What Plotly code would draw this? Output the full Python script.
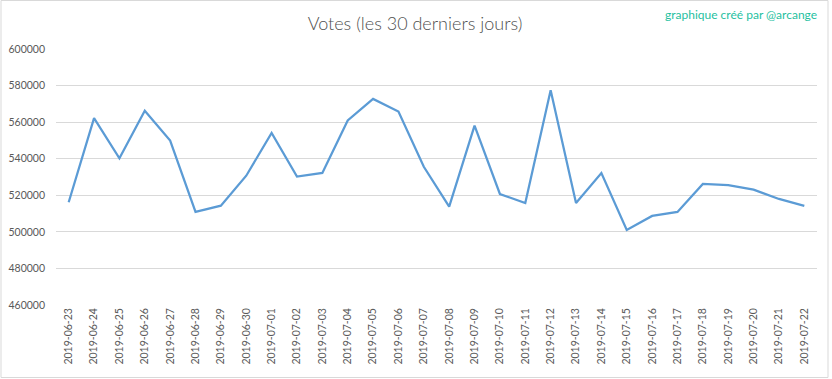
import plotly.graph_objects as go

dates = ["2019-06-23", "2019-06-24", "2019-06-25", "2019-06-26", "2019-06-27",
         "2019-06-28", "2019-06-29", "2019-06-30", "2019-07-01", "2019-07-02",
         "2019-07-03", "2019-07-04", "2019-07-05", "2019-07-06", "2019-07-07",
         "2019-07-08", "2019-07-09", "2019-07-10", "2019-07-11", "2019-07-12",
         "2019-07-13", "2019-07-14", "2019-07-15", "2019-07-16", "2019-07-17",
         "2019-07-18", "2019-07-19", "2019-07-20", "2019-07-21", "2019-07-22"]
votes = [516200, 562200, 540200, 566200, 549900,
         510900, 514300, 530700, 554100, 530200,
         532200, 560900, 572700, 565800, 535600,
         513800, 558100, 520700, 515800, 577400,
         515800, 532200, 501000, 508700, 510900,
         526200, 525600, 523100, 518000, 514200]
y_ticks = [460000, 480000, 500000, 520000, 540000, 560000, 580000, 600000]

W, H = 832, 379
L, R, T, B = 56, 15, 49, 74
pw, ph = W - L - R, H - T - B

def px(x):
    return (x - L) / pw

def py(y):
    return (H - B - y) / ph

FONT = "Lato, 'Open Sans', sans-serif"

fig = go.Figure()
fig.add_trace(go.Scatter(
    x=dates, y=votes, mode="lines",
    line=dict(color="#5b9bd5", width=2.25),
    hoverinfo="x+y",
))

fig.update_layout(
    width=W, height=H,
    margin=dict(l=L, r=R, t=T, b=B),
    paper_bgcolor="white", plot_bgcolor="white",
    showlegend=False,
    font=dict(family=FONT, color="#595959", size=11),
    title=dict(text="Votes (les 30 derniers jours)", xref="container", x=415 / W,
               xanchor="center", yref="container", y=1 - 24 / H, yanchor="middle",
               font=dict(family=FONT, size=18, color="#505050", weight=300)),
    xaxis=dict(type="category", tickangle=-90, showgrid=False, automargin=False,
               showline=False, ticks="", tickfont=dict(size=10.5, color="#595959"),
               range=[-0.5, len(dates) - 0.5]),
    yaxis=dict(range=[460000, 600000], tickvals=y_ticks, ticktext=[str(v) for v in y_ticks],
               showgrid=True, gridcolor="#d9d9d9", gridwidth=1, zeroline=False,
               showline=False, ticks="", ticklabelstandoff=10, automargin=False,
               tickfont=dict(size=10.5, color="#595959")),
    annotations=[dict(text="graphique créé par @arcange", xref="paper", yref="paper",
                      x=px(819), y=py(14), xanchor="right", yanchor="middle",
                      showarrow=False,
                      font=dict(family=FONT, size=12, color="#1fbf9f"))],
    shapes=[dict(type="rect", xref="paper", yref="paper",
                 x0=px(1), x1=px(828), y0=py(377.5), y1=py(0.5),
                 line=dict(color="#d9d9d9", width=1), layer="below")],
)

fig.write_html("out.html", config={"displayModeBar": False},
               post_script="document.body.style.margin='0';document.body.style.overflow='hidden';")
